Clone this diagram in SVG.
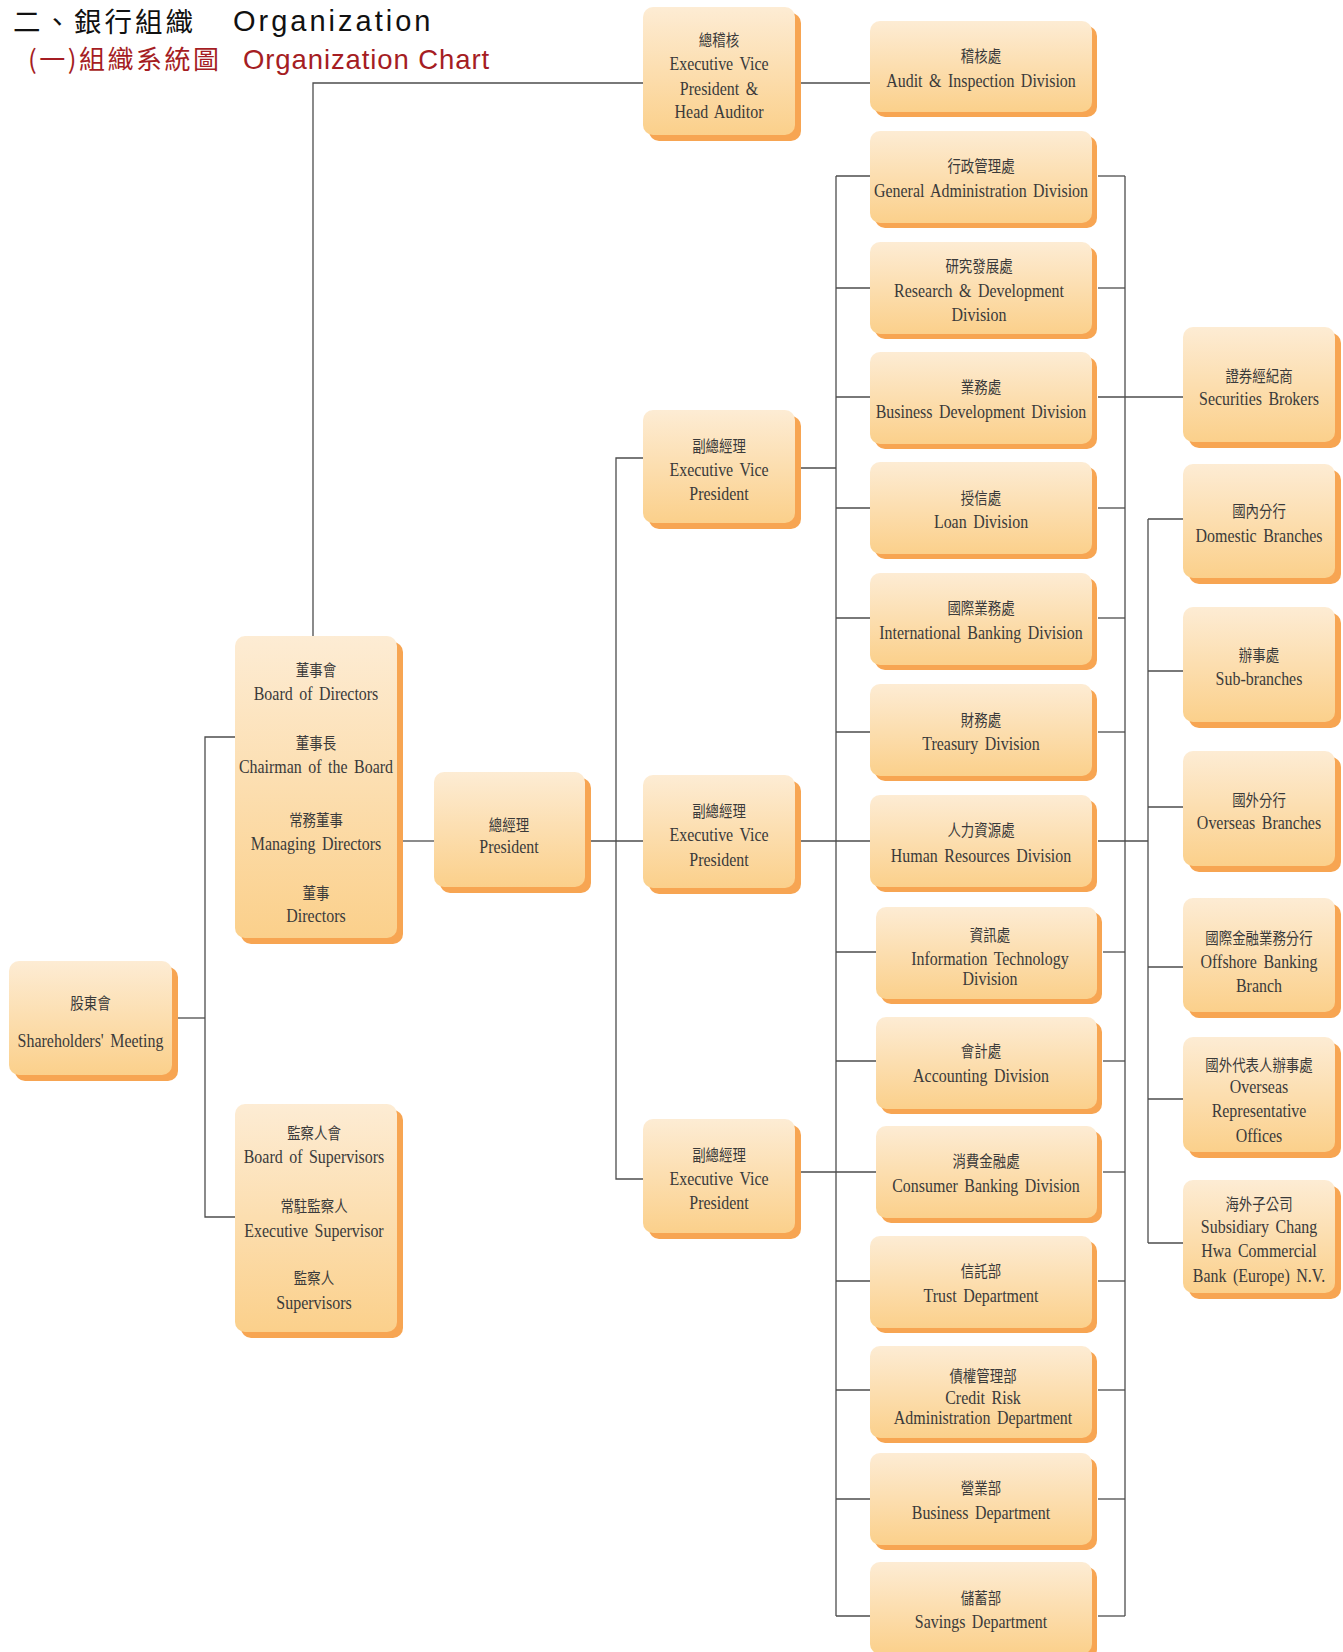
<svg xmlns="http://www.w3.org/2000/svg" width="1343" height="1652" viewBox="0 0 1343 1652">
<defs>
<linearGradient id="g" x1="0" y1="0" x2="0" y2="1">
<stop offset="0" stop-color="#fdecd4"/>
<stop offset="1" stop-color="#fbd08b"/>
</linearGradient>
</defs>
<style>
.sh{fill:#f7a552}
.bx{fill:url(#g)}
.t{text-anchor:middle;fill:#3a3a3a}
.c{font-family:"Noto Sans CJK TC","Noto Sans CJK SC",sans-serif;font-size:16px}
.l{font-family:"Liberation Serif",serif;font-size:19px;word-spacing:3px}
.cn{stroke:#4d4d4d;stroke-width:1.3;fill:none}
.h1c{font-family:"Noto Sans CJK TC",sans-serif;font-size:27.5px;fill:#111;letter-spacing:3px}
.h1l{font-family:"Liberation Sans",sans-serif;font-size:29px;fill:#111;letter-spacing:3px}
.h2c{font-family:"Noto Sans CJK TC",sans-serif;font-size:26px;fill:#a51d23;letter-spacing:2.5px}
.h2l{font-family:"Liberation Sans",sans-serif;font-size:27.5px;fill:#a51d23;letter-spacing:0.9px}
</style>

<g id="title">
<text class="h1c" x="13" y="32">二、銀行組織</text>
<text class="h1l" x="233" y="31">Organization</text>
<text class="h2c" x="28" y="69">(一)組織系統圖</text>
<text class="h2l" x="243" y="69">Organization Chart</text>
</g>

<g id="connectors" class="cn">
<polyline points="313,636 313,83 643,83"/>
<line x1="801" y1="83" x2="870" y2="83"/>
<line x1="177" y1="1018" x2="205" y2="1018"/>
<polyline points="235,737 205,737 205,1217 235,1217"/>
<line x1="403" y1="841" x2="434" y2="841"/>
<line x1="591" y1="841" x2="643" y2="841"/>
<polyline points="643,458 616,458 616,1179 643,1179"/>
<line x1="801" y1="468" x2="836" y2="468"/>
<line x1="801" y1="841" x2="836" y2="841"/>
<line x1="801" y1="1172" x2="836" y2="1172"/>
<line x1="836" y1="176" x2="836" y2="1616"/>
<line x1="1125" y1="176" x2="1125" y2="1616"/>
<line x1="836" y1="176" x2="870" y2="176"/><line x1="1098" y1="176" x2="1125" y2="176"/>
<line x1="836" y1="288" x2="870" y2="288"/><line x1="1098" y1="288" x2="1125" y2="288"/>
<line x1="836" y1="397" x2="870" y2="397"/><line x1="1098" y1="397" x2="1183" y2="397"/>
<line x1="836" y1="508" x2="870" y2="508"/><line x1="1098" y1="508" x2="1125" y2="508"/>
<line x1="836" y1="618" x2="870" y2="618"/><line x1="1098" y1="618" x2="1125" y2="618"/>
<line x1="836" y1="732" x2="870" y2="732"/><line x1="1098" y1="732" x2="1125" y2="732"/>
<line x1="836" y1="841" x2="870" y2="841"/><line x1="1098" y1="841" x2="1148" y2="841"/>
<line x1="836" y1="952" x2="876" y2="952"/><line x1="1103" y1="952" x2="1125" y2="952"/>
<line x1="836" y1="1061" x2="876" y2="1061"/><line x1="1103" y1="1061" x2="1125" y2="1061"/>
<line x1="836" y1="1172" x2="876" y2="1172"/><line x1="1103" y1="1172" x2="1125" y2="1172"/>
<line x1="836" y1="1281" x2="870" y2="1281"/><line x1="1098" y1="1281" x2="1125" y2="1281"/>
<line x1="836" y1="1390" x2="870" y2="1390"/><line x1="1098" y1="1390" x2="1125" y2="1390"/>
<line x1="836" y1="1499" x2="870" y2="1499"/><line x1="1098" y1="1499" x2="1125" y2="1499"/>
<line x1="836" y1="1616" x2="870" y2="1616"/><line x1="1098" y1="1616" x2="1125" y2="1616"/>
<line x1="1148" y1="519" x2="1148" y2="1243"/>
<line x1="1148" y1="519" x2="1183" y2="519"/>
<line x1="1148" y1="671" x2="1183" y2="671"/>
<line x1="1148" y1="807" x2="1183" y2="807"/>
<line x1="1148" y1="967" x2="1183" y2="967"/>
<line x1="1148" y1="1099" x2="1183" y2="1099"/>
<line x1="1148" y1="1243" x2="1183" y2="1243"/>
</g>

<g id="n-shareholders"><rect class="sh" x="15" y="967" width="163" height="114" rx="10"/><rect class="bx" x="9" y="961" width="163" height="114" rx="10"/>
<text class="t" transform="translate(90.5 0) scale(.84 1)"><tspan class="c" x="0" y="1009">股東會</tspan><tspan class="l" x="0" y="1047">Shareholders' Meeting</tspan></text></g>

<g id="n-board"><rect class="sh" x="241" y="642" width="162" height="302" rx="10"/><rect class="bx" x="235" y="636" width="162" height="302" rx="10"/>
<text class="t" transform="translate(316 0) scale(.84 1)"><tspan class="c" x="0" y="676">董事會</tspan><tspan class="l" x="0" y="700">Board of Directors</tspan><tspan class="c" x="0" y="749">董事長</tspan><tspan class="l" x="0" y="773">Chairman of the Board</tspan><tspan class="c" x="0" y="826">常務董事</tspan><tspan class="l" x="0" y="850">Managing Directors</tspan><tspan class="c" x="0" y="899">董事</tspan><tspan class="l" x="0" y="922">Directors</tspan></text></g>

<g id="n-supervisors"><rect class="sh" x="241" y="1110" width="162" height="228" rx="10"/><rect class="bx" x="235" y="1104" width="162" height="228" rx="10"/>
<text class="t" transform="translate(314 0) scale(.84 1)"><tspan class="c" x="0" y="1139">監察人會</tspan><tspan class="l" x="0" y="1163">Board of Supervisors</tspan><tspan class="c" x="0" y="1212">常駐監察人</tspan><tspan class="l" x="0" y="1237">Executive Supervisor</tspan><tspan class="c" x="0" y="1284">監察人</tspan><tspan class="l" x="0" y="1309">Supervisors</tspan></text></g>

<g id="n-president"><rect class="sh" x="440" y="778" width="151" height="115" rx="10"/><rect class="bx" x="434" y="772" width="151" height="115" rx="10"/>
<text class="t" transform="translate(509 0) scale(.84 1)"><tspan class="c" x="0" y="831">總經理</tspan><tspan class="l" x="0" y="853">President</tspan></text></g>

<g id="n-head-auditor"><rect class="sh" x="649" y="13" width="152" height="128" rx="10"/><rect class="bx" x="643" y="7" width="152" height="128" rx="10"/>
<text class="t" transform="translate(719 0) scale(.84 1)"><tspan class="c" x="0" y="46">總稽核</tspan><tspan class="l" x="0" y="70">Executive Vice</tspan><tspan class="l" x="0" y="95">President &amp;</tspan><tspan class="l" x="0" y="118">Head Auditor</tspan></text></g>

<g id="n-evp1"><rect class="sh" x="649" y="416" width="152" height="113" rx="10"/><rect class="bx" x="643" y="410" width="152" height="113" rx="10"/>
<text class="t" transform="translate(719 0) scale(.84 1)"><tspan class="c" x="0" y="452">副總經理</tspan><tspan class="l" x="0" y="476">Executive Vice</tspan><tspan class="l" x="0" y="500">President</tspan></text></g>

<g id="n-evp2"><rect class="sh" x="649" y="781" width="152" height="113" rx="10"/><rect class="bx" x="643" y="775" width="152" height="113" rx="10"/>
<text class="t" transform="translate(719 0) scale(.84 1)"><tspan class="c" x="0" y="817">副總經理</tspan><tspan class="l" x="0" y="841">Executive Vice</tspan><tspan class="l" x="0" y="866">President</tspan></text></g>

<g id="n-evp3"><rect class="sh" x="649" y="1125" width="152" height="114" rx="10"/><rect class="bx" x="643" y="1119" width="152" height="114" rx="10"/>
<text class="t" transform="translate(719 0) scale(.84 1)"><tspan class="c" x="0" y="1161">副總經理</tspan><tspan class="l" x="0" y="1185">Executive Vice</tspan><tspan class="l" x="0" y="1209">President</tspan></text></g>

<g id="n-audit"><rect class="sh" x="875" y="26" width="222" height="91" rx="10"/><rect class="bx" x="870" y="21" width="222" height="91" rx="10"/>
<text class="t" transform="translate(981 0) scale(.84 1)"><tspan class="c" x="0" y="62">稽核處</tspan><tspan class="l" x="0" y="87">Audit &amp; Inspection Division</tspan></text></g>

<g id="n-general-admin"><rect class="sh" x="875" y="136" width="222" height="92" rx="10"/><rect class="bx" x="870" y="131" width="222" height="92" rx="10"/>
<text class="t" transform="translate(981 0) scale(.84 1)"><tspan class="c" x="0" y="172">行政管理處</tspan><tspan class="l" x="0" y="197">General Administration Division</tspan></text></g>

<g id="n-rnd"><rect class="sh" x="875" y="247" width="222" height="92" rx="10"/><rect class="bx" x="870" y="242" width="222" height="92" rx="10"/>
<text class="t" transform="translate(979 0) scale(.84 1)"><tspan class="c" x="0" y="272">研究發展處</tspan><tspan class="l" x="0" y="297">Research &amp; Development</tspan><tspan class="l" x="0" y="321">Division</tspan></text></g>

<g id="n-business-dev"><rect class="sh" x="875" y="357" width="222" height="92" rx="10"/><rect class="bx" x="870" y="352" width="222" height="92" rx="10"/>
<text class="t" transform="translate(981 0) scale(.84 1)"><tspan class="c" x="0" y="393">業務處</tspan><tspan class="l" x="0" y="418">Business Development Division</tspan></text></g>

<g id="n-loan"><rect class="sh" x="875" y="467" width="222" height="92" rx="10"/><rect class="bx" x="870" y="462" width="222" height="92" rx="10"/>
<text class="t" transform="translate(981 0) scale(.84 1)"><tspan class="c" x="0" y="504">授信處</tspan><tspan class="l" x="0" y="528">Loan Division</tspan></text></g>

<g id="n-intl"><rect class="sh" x="875" y="578" width="222" height="92" rx="10"/><rect class="bx" x="870" y="573" width="222" height="92" rx="10"/>
<text class="t" transform="translate(981 0) scale(.84 1)"><tspan class="c" x="0" y="614">國際業務處</tspan><tspan class="l" x="0" y="639">International Banking Division</tspan></text></g>

<g id="n-treasury"><rect class="sh" x="875" y="689" width="222" height="92" rx="10"/><rect class="bx" x="870" y="684" width="222" height="92" rx="10"/>
<text class="t" transform="translate(981 0) scale(.84 1)"><tspan class="c" x="0" y="726">財務處</tspan><tspan class="l" x="0" y="750">Treasury Division</tspan></text></g>

<g id="n-hr"><rect class="sh" x="875" y="800" width="222" height="92" rx="10"/><rect class="bx" x="870" y="795" width="222" height="92" rx="10"/>
<text class="t" transform="translate(981 0) scale(.84 1)"><tspan class="c" x="0" y="836">人力資源處</tspan><tspan class="l" x="0" y="862">Human Resources Division</tspan></text></g>

<g id="n-it"><rect class="sh" x="881" y="912" width="221" height="92" rx="10"/><rect class="bx" x="876" y="907" width="221" height="92" rx="10"/>
<text class="t" transform="translate(990 0) scale(.84 1)"><tspan class="c" x="0" y="941">資訊處</tspan><tspan class="l" x="0" y="965">Information Technology</tspan><tspan class="l" x="0" y="985">Division</tspan></text></g>

<g id="n-accounting"><rect class="sh" x="881" y="1022" width="221" height="92" rx="10"/><rect class="bx" x="876" y="1017" width="221" height="92" rx="10"/>
<text class="t" transform="translate(981 0) scale(.84 1)"><tspan class="c" x="0" y="1057">會計處</tspan><tspan class="l" x="0" y="1082">Accounting Division</tspan></text></g>

<g id="n-consumer"><rect class="sh" x="881" y="1131" width="221" height="92" rx="10"/><rect class="bx" x="876" y="1126" width="221" height="92" rx="10"/>
<text class="t" transform="translate(986 0) scale(.84 1)"><tspan class="c" x="0" y="1167">消費金融處</tspan><tspan class="l" x="0" y="1192">Consumer Banking Division</tspan></text></g>

<g id="n-trust"><rect class="sh" x="875" y="1241" width="222" height="92" rx="10"/><rect class="bx" x="870" y="1236" width="222" height="92" rx="10"/>
<text class="t" transform="translate(981 0) scale(.84 1)"><tspan class="c" x="0" y="1277">信託部</tspan><tspan class="l" x="0" y="1302">Trust Department</tspan></text></g>

<g id="n-credit-risk"><rect class="sh" x="875" y="1351" width="222" height="92" rx="10"/><rect class="bx" x="870" y="1346" width="222" height="92" rx="10"/>
<text class="t" transform="translate(983 0) scale(.84 1)"><tspan class="c" x="0" y="1382">債權管理部</tspan><tspan class="l" x="0" y="1404">Credit Risk</tspan><tspan class="l" x="0" y="1424">Administration Department</tspan></text></g>

<g id="n-business-dept"><rect class="sh" x="875" y="1458" width="222" height="92" rx="10"/><rect class="bx" x="870" y="1453" width="222" height="92" rx="10"/>
<text class="t" transform="translate(981 0) scale(.84 1)"><tspan class="c" x="0" y="1494">營業部</tspan><tspan class="l" x="0" y="1519">Business Department</tspan></text></g>

<g id="n-savings"><rect class="sh" x="875" y="1567" width="222" height="92" rx="10"/><rect class="bx" x="870" y="1562" width="222" height="92" rx="10"/>
<text class="t" transform="translate(981 0) scale(.84 1)"><tspan class="c" x="0" y="1604">儲蓄部</tspan><tspan class="l" x="0" y="1628">Savings Department</tspan></text></g>

<g id="n-securities"><rect class="sh" x="1189" y="333" width="152" height="115" rx="10"/><rect class="bx" x="1183" y="327" width="152" height="115" rx="10"/>
<text class="t" transform="translate(1259 0) scale(.84 1)"><tspan class="c" x="0" y="382">證券經紀商</tspan><tspan class="l" x="0" y="405">Securities Brokers</tspan></text></g>

<g id="n-domestic"><rect class="sh" x="1189" y="470" width="152" height="114" rx="10"/><rect class="bx" x="1183" y="464" width="152" height="114" rx="10"/>
<text class="t" transform="translate(1259 0) scale(.84 1)"><tspan class="c" x="0" y="517">國內分行</tspan><tspan class="l" x="0" y="542">Domestic Branches</tspan></text></g>

<g id="n-subbranches"><rect class="sh" x="1189" y="613" width="152" height="115" rx="10"/><rect class="bx" x="1183" y="607" width="152" height="115" rx="10"/>
<text class="t" transform="translate(1259 0) scale(.84 1)"><tspan class="c" x="0" y="661">辦事處</tspan><tspan class="l" x="0" y="685">Sub-branches</tspan></text></g>

<g id="n-overseas-branches"><rect class="sh" x="1189" y="757" width="152" height="115" rx="10"/><rect class="bx" x="1183" y="751" width="152" height="115" rx="10"/>
<text class="t" transform="translate(1259 0) scale(.84 1)"><tspan class="c" x="0" y="806">國外分行</tspan><tspan class="l" x="0" y="829">Overseas Branches</tspan></text></g>

<g id="n-offshore"><rect class="sh" x="1189" y="904" width="152" height="114" rx="10"/><rect class="bx" x="1183" y="898" width="152" height="114" rx="10"/>
<text class="t" transform="translate(1259 0) scale(.84 1)"><tspan class="c" x="0" y="944">國際金融業務分行</tspan><tspan class="l" x="0" y="968">Offshore Banking</tspan><tspan class="l" x="0" y="992">Branch</tspan></text></g>

<g id="n-rep-offices"><rect class="sh" x="1189" y="1043" width="152" height="115" rx="10"/><rect class="bx" x="1183" y="1037" width="152" height="115" rx="10"/>
<text class="t" transform="translate(1259 0) scale(.84 1)"><tspan class="c" x="0" y="1071">國外代表人辦事處</tspan><tspan class="l" x="0" y="1093">Overseas</tspan><tspan class="l" x="0" y="1117">Representative</tspan><tspan class="l" x="0" y="1142">Offices</tspan></text></g>

<g id="n-subsidiary"><rect class="sh" x="1189" y="1186" width="152" height="113" rx="10"/><rect class="bx" x="1183" y="1180" width="152" height="113" rx="10"/>
<text class="t" transform="translate(1259 0) scale(.84 1)"><tspan class="c" x="0" y="1210">海外子公司</tspan><tspan class="l" x="0" y="1233">Subsidiary Chang</tspan><tspan class="l" x="0" y="1257">Hwa Commercial</tspan><tspan class="l" x="0" y="1282">Bank (Europe) N.V.</tspan></text></g>
</svg>
